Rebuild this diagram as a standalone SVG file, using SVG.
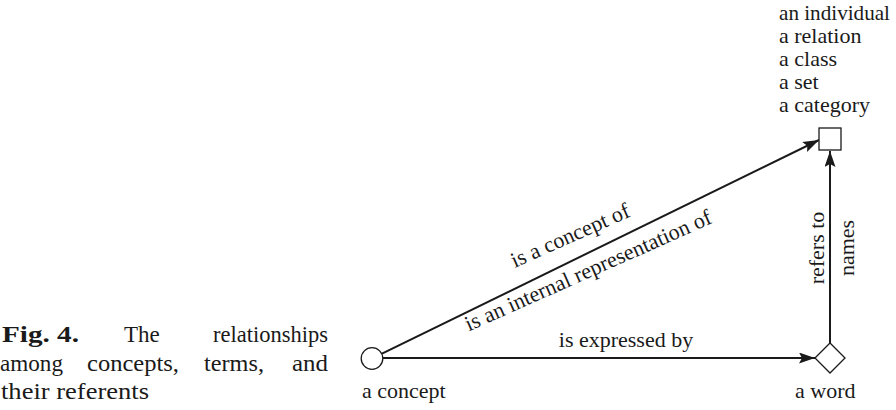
<svg xmlns="http://www.w3.org/2000/svg" width="896" height="410" viewBox="0 0 896 410">
<defs>
<style>
text{font-family:"Liberation Serif","Times New Roman",serif;fill:#1a1a1a}
.t{font-size:22px}
.c{font-size:23px}
.b{font-weight:bold}
.node{fill:#fff;stroke:#1a1a1a;stroke-width:1.3}
.edge{fill:none;stroke:#1a1a1a;stroke-width:2}
</style>
<marker id="arr" markerUnits="userSpaceOnUse" markerWidth="17" markerHeight="12" refX="16" refY="5.5" orient="auto">
<path d="M0,0 L16,5.5 L0,11 L3,5.5 z" fill="#1a1a1a"/>
</marker>
</defs>
<rect width="896" height="410" fill="#fff"/>

<g id="caption">
<text class="c b" x="2" y="342" textLength="77" lengthAdjust="spacingAndGlyphs">Fig. 4.</text>
<text class="c" x="124" y="342">The</text>
<text class="c" x="213" y="342" textLength="115" lengthAdjust="spacingAndGlyphs">relationships</text>
<text class="c" x="0" y="371" textLength="63" lengthAdjust="spacingAndGlyphs">among</text>
<text class="c" x="87" y="371" textLength="92" lengthAdjust="spacingAndGlyphs">concepts,</text>
<text class="c" x="204" y="371" textLength="60" lengthAdjust="spacingAndGlyphs">terms,</text>
<text class="c" x="292" y="371" textLength="36" lengthAdjust="spacingAndGlyphs">and</text>
<text class="c" x="1" y="399" textLength="148" lengthAdjust="spacingAndGlyphs">their referents</text>
</g>

<g id="connectors">
<line class="edge" x1="382" y1="353.7" x2="819" y2="140" marker-end="url(#arr)"/>
<line class="edge" x1="383" y1="358" x2="815" y2="358" marker-end="url(#arr)"/>
<line class="edge" x1="830" y1="343" x2="830" y2="151" marker-end="url(#arr)"/>
<text class="t" text-anchor="middle" transform="translate(573,242) rotate(-24)">is a concept of</text>
<text class="t" text-anchor="middle" transform="translate(591,277) rotate(-24)">is an internal representation of</text>
<text class="t" text-anchor="middle" x="626" y="347">is expressed by</text>
<text class="t" text-anchor="middle" transform="translate(824,248) rotate(-90)">refers to</text>
<text class="t" text-anchor="middle" transform="translate(854,248) rotate(-90)">names</text>
</g>

<g id="concept">
<circle class="node" cx="372" cy="358.5" r="10.8"/>
<text class="t" x="362" y="398">a concept</text>
</g>

<g id="word">
<polygon class="node" points="815,358 830,343 845,358 830,373"/>
<text class="t" x="795" y="398">a word</text>
</g>

<g id="referent">
<rect class="node" x="819" y="128" width="22" height="22"/>
<text class="t" x="779" y="20"><tspan x="779" y="20" textLength="111" lengthAdjust="spacingAndGlyphs">an individual</tspan><tspan x="779" y="43">a relation</tspan><tspan x="779" y="66">a class</tspan><tspan x="779" y="89">a set</tspan><tspan x="779" y="112">a category</tspan></text>
</g>
</svg>
